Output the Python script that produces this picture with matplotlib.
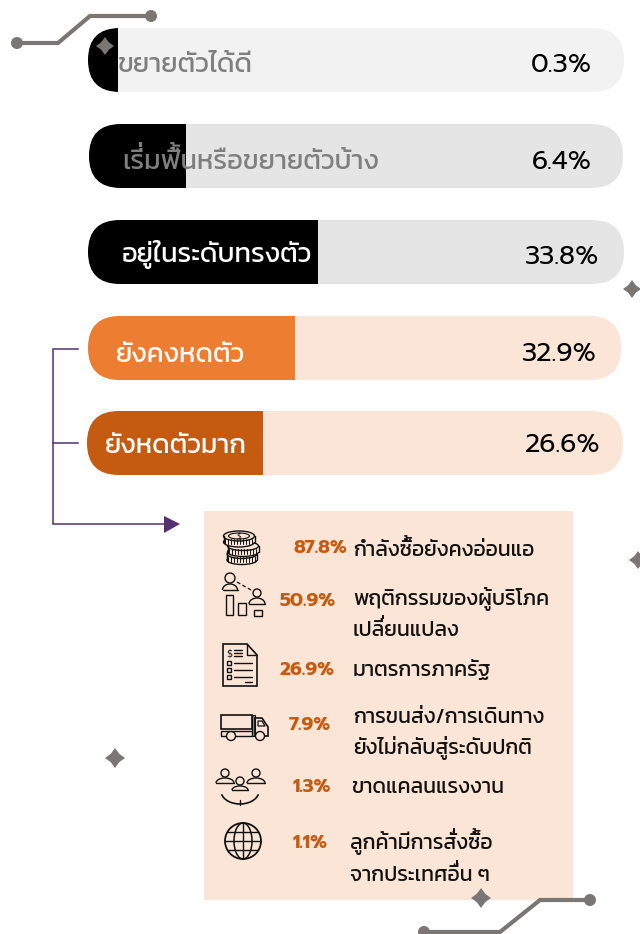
import matplotlib
matplotlib.use('Agg')
import matplotlib.pyplot as plt
from matplotlib import font_manager as fm
from matplotlib.ft2font import FT2Font, LoadFlags
from matplotlib.patches import Circle, Ellipse, FancyBboxPatch, PathPatch, Polygon, Rectangle, Arc
from matplotlib.textpath import TextPath
from matplotlib.transforms import Affine2D

# ข้อมูลแถบด้านบน
bar_labels = ['ขยายตัวได้ดี', 'เริ่มฟื้นหรือขยายตัวบ้าง', 'อยู่ในระดับทรงตัว', 'ยังคงหดตัว', 'ยังหดตัวมาก']
bar_values = ['0.3%', '6.4%', '33.8%', '32.9%', '26.6%']
# ความยาวส่วนทึบ อ่านจากภาพ (แถบในภาพไม่ได้สเกลตามค่าจริง)
bar_fill = [30, 97, 230, 207, 176]

# ข้อมูลกล่องเหตุผล
reason_pcts = ['87.8%', '50.9%', '26.9%', '7.9%', '1.3%', '1.1%']
reason_lines = [
    ['กำลังซื้อยังคงอ่อนแอ'],
    ['พฤติกรรมของผู้บริโภค', 'เปลี่ยนแปลง'],
    ['มาตรการภาครัฐ'],
    ['การขนส่ง/การเดินทาง', 'ยังไม่กลับสู่ระดับปกติ'],
    ['ขาดแคลนแรงงาน'],
    ['ลูกค้ามีการสั่งซื้อ', 'จากประเทศอื่น ๆ'],
]

# สี
GRAY = '#7a7674'
INK = '#111111'
ORANGE = '#ed7d31'
DARK_ORANGE = '#c55a11'
PEACH = '#fbe5d6'
PURPLE = '#54306e'
track_colors = ['#f2f2f2', '#e5e5e5', '#e5e5e5', PEACH, PEACH]
fill_colors = ['black', 'black', 'black', ORANGE, DARK_ORANGE]
label_colors = ['#7f7f7f', '#7f7f7f', 'white', 'white', 'white']

# ตำแหน่งแถบ (พิกเซล)
bar_left = [88, 89, 88, 88, 87]
bar_right = [624, 623, 624, 621, 623]
bar_top = [28, 124, 220, 316, 411]
bar_h = 64
label_x = [118, 122, 122, 116, 105]
label_base = [72, 169, 262, 362, 453]
value_x = [592, 592, 599, 597, 600]
value_base = [72, 169, 264, 361, 452]

# ตำแหน่งข้อความในกล่อง
pct_right = [347, 336, 334, 331, 331, 328]
pct_base = [553, 606, 675, 730, 792, 848]
line_x = [353, 353, 353, 353, 351, 350]
line_base = [[556], [605, 636], [676], [723, 754], [793], [849, 881]]

THAI = 'Kanit'
UPPER_VOWELS = 'ัิีึื'
TONES = '่้๊๋'
fig = plt.figure(figsize=(6.4, 9.34), dpi=100)
ax = fig.add_axes([0, 0, 1, 1])
ax.set_xlim(0, 640)
ax.set_ylim(934, 0)
ax.axis('off')


def thai_text(x, y, s, size, color):
    # matplotlib ไม่ยกวรรณยุกต์เหนือสระบน จึงวาดวรรณยุกต์ซ้ำให้สูงขึ้น
    ax.text(x, y, s, family=THAI, weight='normal', fontsize=size, color=color, ha='left', va='baseline', zorder=3)
    fp = fm.FontProperties(family=THAI, weight='normal')
    font = FT2Font(fm.findfont(fp))
    px = size / 0.72
    font.set_size(px, 72)
    pen = 0
    for i, ch in enumerate(s):
        if ch in TONES and i > 0 and s[i - 1] in UPPER_VOWELS:
            mark = TextPath((0, 0), ch, size=px, prop=fp)
            move = Affine2D().scale(1, -1).translate(x + pen, y - px * 0.2)
            ax.add_patch(PathPatch(mark, transform=move + ax.transData, fc=color, ec='none', zorder=3))
        pen += font.load_char(ord(ch), flags=LoadFlags.NO_HINTING).linearHoriAdvance / 65536


def sparkle(x, y, r):
    # ดาวสี่แฉกเล็ก ๆ
    k = r * 0.42
    ax.add_patch(Polygon([(x, y - r), (x + k, y - k), (x + r, y), (x + k, y + k),
                          (x, y + r), (x - k, y + k), (x - r, y), (x - k, y - k)],
                         fc=GRAY, ec='none', zorder=6))


def circuit(xs, ys):
    ax.plot(xs, ys, color=GRAY, lw=3, solid_joinstyle='miter', zorder=5)
    ax.add_patch(Circle((xs[0], ys[0]), 6, fc=GRAY, ec='none', zorder=5))
    ax.add_patch(Circle((xs[-1], ys[-1]), 6, fc=GRAY, ec='none', zorder=5))


def line(xs, ys, lw=1.0):
    ax.plot(xs, ys, color=INK, lw=lw, solid_capstyle='round', zorder=4)


def ring(x, y, r, lw=1.0, fc='none'):
    ax.add_patch(Circle((x, y), r, fc=fc, ec=INK, lw=lw, zorder=4))


def person(x, y, r, w, h):
    # หัวกลมกับไหล่โค้งแบน ๆ
    ring(x, y, r)
    base = y + r + h + 1
    ax.add_patch(Arc((x, base), 2 * w, 2 * h, theta1=180, theta2=360, ec=INK, lw=1.0, zorder=4))
    line([x - w, x + w], [base, base])


def coin(x, y, w, h):
    ax.add_patch(Ellipse((x, y + 6), w, h, fc=PEACH, ec=INK, lw=1.0, zorder=4))
    ax.add_patch(Rectangle((x - w / 2, y), w, 6, fc=PEACH, ec='none', zorder=4))
    ax.add_patch(Ellipse((x, y), w, h, fc=PEACH, ec=INK, lw=1.0, zorder=4))
    for dx in range(-14, 15, 3):
        line([x + dx, x + dx], [y + 3, y + 8], lw=0.7)
    line([x - w / 2, x - w / 2], [y, y + 6])
    line([x + w / 2, x + w / 2], [y, y + 6])


def icon_coins(x, y):
    coin(x + 1, y + 11, 30, 9)
    coin(x + 2, y + 3, 31, 9)
    coin(x - 2, y - 7, 31, 10)
    ax.add_patch(Ellipse((x - 2, y - 7), 21, 6, fc='none', ec=INK, lw=0.8, zorder=5))
    ax.text(x - 2, y - 6.5, '$', fontsize=5.5, ha='center', va='center', color=INK, zorder=5)


def icon_people_chart(x, y):
    person(x - 13, y - 18, 5, 7.5, 6)
    person(x + 14, y - 3, 4, 8, 6)
    line([x - 6, x + 8], [y - 14, y - 6], lw=0.9)
    ax.lines[-1].set_linestyle((0, (3, 2)))
    for bx, by, bw, bh in [(-17, -1, 7, 20), (-5, 7, 8, 12), (11, 14, 8, 6)]:
        ax.add_patch(Rectangle((x + bx, y + by), bw, bh, fc='none', ec=INK, lw=1.0, zorder=4))


def icon_doc(x, y):
    ax.add_patch(Polygon([(x - 17, y - 21), (x + 7, y - 21), (x + 17, y - 10), (x + 17, y + 21), (x - 17, y + 21)],
                         fc='none', ec=INK, lw=1.2, zorder=4))
    line([x + 7, x + 7, x + 17], [y - 21, y - 10, y - 10])
    ax.text(x - 11, y - 12, '$', fontsize=7, ha='center', va='center', color=INK, zorder=5)
    for dy in (-15, -12, -9):
        line([x - 6, x + 2], [y + dy, y + dy])
    for dy in (-2, 5, 12):
        ax.add_patch(Rectangle((x - 13, y + dy - 2), 4, 4, fc='none', ec=INK, lw=1, zorder=4))
        line([x - 6, x + 12], [y + dy, y + dy])
    line([x + 5, x + 12], [y + 17, y + 17])


def icon_truck(x, y):
    ax.add_patch(Rectangle((x - 23, y - 12), 31, 14, fc='none', ec=INK, lw=1.2, zorder=4))
    ax.add_patch(Rectangle((x - 23, y + 4), 31, 5, fc='none', ec=INK, lw=1.0, zorder=4))
    ax.add_patch(Rectangle((x + 8, y - 12), 3, 21, fc='#8a8683', ec=INK, lw=0.8, zorder=4))
    ax.add_patch(Polygon([(x + 11, y - 9), (x + 18, y - 9), (x + 24, y), (x + 24, y + 9), (x + 11, y + 9)],
                         fc='none', ec=INK, lw=1.2, zorder=4))
    ax.add_patch(Polygon([(x + 14, y - 6), (x + 18, y - 6), (x + 21, y - 1), (x + 14, y - 1)],
                         fc='none', ec=INK, lw=0.9, zorder=4))
    ring(x - 13, y + 9, 4.5, fc=PEACH)
    ring(x + 16, y + 9, 4.5, fc=PEACH)


def icon_team(x, y):
    person(x - 15, y - 13, 4, 9, 5)
    person(x + 16, y - 13, 4, 9, 5)
    person(x, y - 5, 4, 8, 4)
    ax.add_patch(Arc((x, y + 5), 38, 26, theta1=10, theta2=170, ec=INK, lw=1.2, zorder=4))
    line([x, x], [y + 14, y + 19])


def icon_globe(x, y):
    r = 18
    ring(x, y, r, lw=1.3)
    ax.add_patch(Ellipse((x, y), r, 2 * r, fc='none', ec=INK, lw=1.1, zorder=4))
    line([x, x], [y - r, y + r])
    line([x - r, x + r], [y, y])
    line([x - 15, x + 15], [y - 9, y - 9])
    line([x - 15, x + 15], [y + 9, y + 9])


# แถบ
for i in range(len(bar_labels)):
    w = bar_right[i] - bar_left[i]
    track = FancyBboxPatch((bar_left[i], bar_top[i]), w, bar_h,
                           boxstyle='round,pad=0,rounding_size=32', fc=track_colors[i], ec='none', zorder=1)
    ax.add_patch(track)
    fill = ax.barh(bar_top[i] + bar_h / 2, bar_fill[i], height=bar_h, left=bar_left[i],
                   color=fill_colors[i], zorder=2)[0]
    fill.set_clip_path(track)
    thai_text(label_x[i], label_base[i], bar_labels[i], 19.6, label_colors[i])
    ax.text(value_x[i], value_base[i], bar_values[i], family='Prompt', weight='normal', fontsize=19,
            color='black', va='baseline', ha='right', zorder=3)

# เส้นเชื่อมสีม่วง
ax.plot([78, 53, 53, 165], [349, 349, 524, 524], color=PURPLE, lw=1.1, solid_joinstyle='miter', zorder=2)
ax.plot([53, 78], [443, 443], color=PURPLE, lw=1.1, zorder=2)
ax.add_patch(Polygon([(164, 516), (180, 524), (164, 533)], fc=PURPLE, ec='none', zorder=2))

# กล่องเหตุผล
ax.add_patch(Rectangle((204, 511), 369, 389, fc=PEACH, ec='none', zorder=1))
for i in range(len(reason_pcts)):
    ax.text(pct_right[i], pct_base[i], reason_pcts[i], family='Prompt', weight='bold', fontsize=13.5,
            color=DARK_ORANGE, ha='right', va='baseline', zorder=3)
    for txt, yb in zip(reason_lines[i], line_base[i]):
        thai_text(line_x[i], yb, txt, 15.2, INK)

icon_coins(241, 543)
icon_people_chart(243, 596)
icon_doc(240, 665)
icon_truck(244, 727)
icon_team(240, 786)
icon_globe(243, 841)

# ของตกแต่ง
circuit([17, 58, 90, 151], [43, 43, 16, 16])
circuit([424, 500, 540, 590], [932, 932, 900, 900])
for sx, sy, sr in [(105, 46, 9), (632, 289, 9), (638, 560, 9), (115, 758, 10), (481, 898, 10)]:
    sparkle(sx, sy, sr)

fig.savefig('out.png', dpi=100)
